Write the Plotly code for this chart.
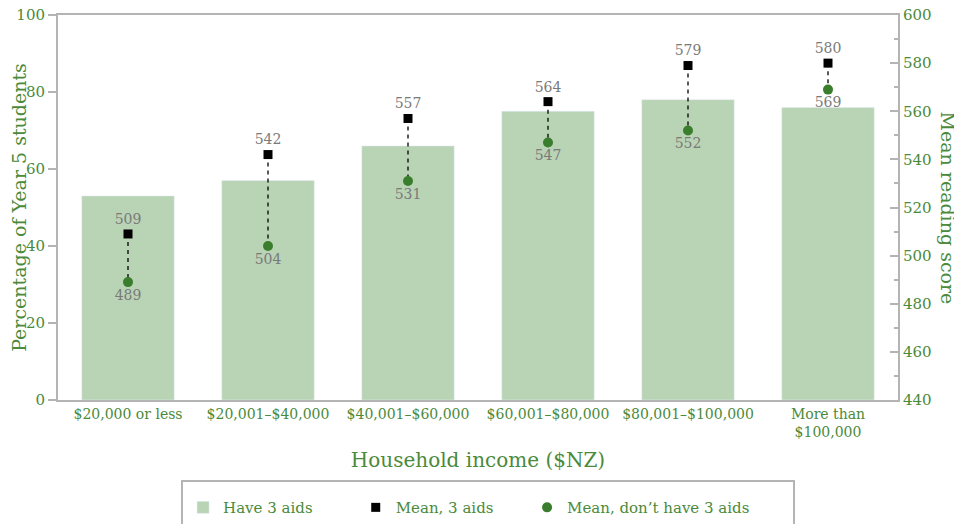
import plotly.graph_objs as go

# Data
income = ['$20,000 or less', '$20,001–$40,000', '$40,001–$60,000',
          '$60,001–$80,000', '$80,001–$100,000', 'More than<br>$100,000']
pct_have_aids = [53, 57, 66, 75, 78, 76]
mean_have_aids = [509, 542, 557, 564, 579, 580]
mean_no_aids = [489, 504, 531, 547, 552, 569]

GREEN = '#4a8a3a'
AXIS_GREY = '#b4b4b4'
LABEL_GREY = '#7a7a7a'
FONT = 'DejaVu Serif'
NBSP = '\u00a0'  # pads legend entries so they spread out like the original

# the page body has an 8px margin, so the figure is a bit smaller than the window
W, H = 954, 516

# Dashed connectors between the two means, one segment per category
line_x, line_y = [], []
for cat, a, b in zip(income, mean_have_aids, mean_no_aids):
    line_x += [cat, cat, None]
    line_y += [a, b, None]

data = [
    go.Bar(x=income, y=pct_have_aids, name='Have 3 aids' + NBSP * 8,
           marker=dict(color='#b9d3b5'), width=0.66, yaxis='y'),
    go.Scatter(x=line_x, y=line_y, mode='lines', yaxis='y2', showlegend=False,
               hoverinfo='skip',
               line=dict(color='black', width=1.3, dash='4px,4px')),
    go.Scatter(x=income, y=mean_have_aids, name='Mean, 3 aids' + NBSP * 6,
               yaxis='y2', mode='markers+text', text=mean_have_aids,
               textposition='top center',
               textfont=dict(color=LABEL_GREY, size=14, family=FONT),
               marker=dict(symbol='square', color='black', size=9)),
    go.Scatter(x=income, y=mean_no_aids, name='Mean, don’t have 3 aids' + NBSP * 8,
               yaxis='y2', mode='markers+text', text=mean_no_aids,
               textposition='bottom center',
               textfont=dict(color=LABEL_GREY, size=14, family=FONT),
               marker=dict(symbol='circle', color='#3a7d2c', size=10)),
]

layout = go.Layout(
    width=W, height=H,
    margin=dict(l=50, r=64, t=7, b=124),
    plot_bgcolor='white', paper_bgcolor='white',
    font=dict(family=FONT, color=GREEN),
    xaxis=dict(
        title=dict(text='Household income ($NZ)', font=dict(size=20, color=GREEN),
                   standoff=14),
        tickfont=dict(size=14, color=GREEN),
        showline=True, linecolor=AXIS_GREY, linewidth=2, mirror=True,
        ticks='', showgrid=False, automargin=False,
    ),
    yaxis=dict(
        title=dict(text='Percentage of Year 5 students', font=dict(size=19, color=GREEN),
                   standoff=10),
        range=[0, 100], dtick=20,
        tickfont=dict(size=15, color=GREEN), ticklabeloverflow='allow',
        showline=True, linecolor=AXIS_GREY, linewidth=2,
        ticks='outside', ticklen=8, tickwidth=2, tickcolor=AXIS_GREY,
        showgrid=False, zeroline=False, automargin=False,
    ),
    yaxis2=dict(
        overlaying='y', side='right', anchor='x',
        range=[440, 600], dtick=20,
        tickfont=dict(size=15, color=GREEN), ticklabeloverflow='allow',
        showline=True, linecolor=AXIS_GREY, linewidth=2,
        ticks='inside', ticklen=8, tickwidth=2, tickcolor=AXIS_GREY,
        minor=dict(dtick=10, ticks='inside', ticklen=4, tickwidth=2,
                   tickcolor=AXIS_GREY),
        showgrid=False, zeroline=False, automargin=False,
    ),
    legend=dict(
        orientation='h', x=0.512, xanchor='center',
        yref='container', y=1 - 472 / H, yanchor='top',
        bordercolor=AXIS_GREY, borderwidth=2,
        font=dict(size=15, color=GREEN),
        title=dict(text=NBSP, side='top', font=dict(size=7)),
    ),
    annotations=[dict(
        text='Mean reading score', textangle=90, showarrow=False,
        xref='paper', yref='paper', x=1.0, xshift=50, y=0.5,
        xanchor='center', yanchor='middle',
        font=dict(size=19, color=GREEN),
    )],
)

fig = go.Figure(data=data, layout=layout)
fig.write_html('out.html')
